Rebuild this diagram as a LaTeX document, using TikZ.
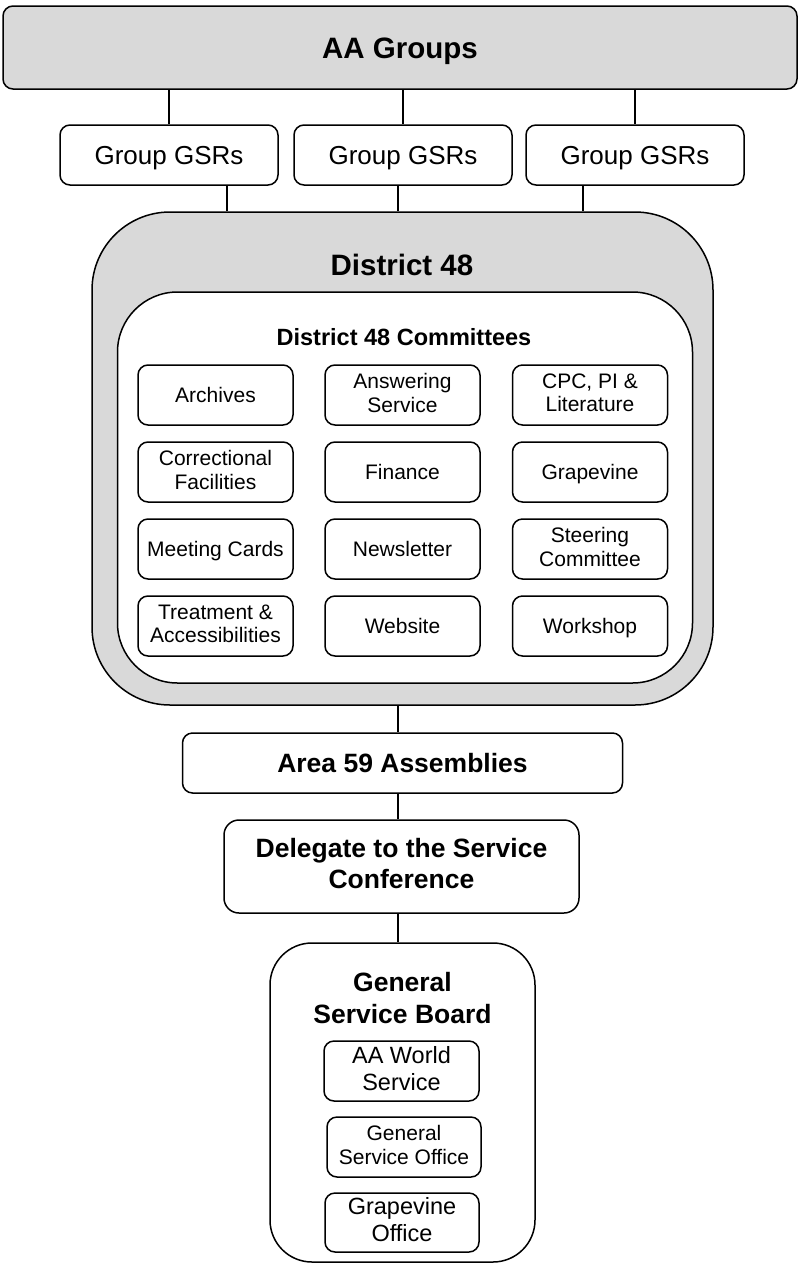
\documentclass[tikz,border=0pt]{standalone}
\usepackage{fontspec}
\setmainfont{Liberation Sans}
\newcommand{\boxstrut}{\rule[-0.22em]{0pt}{1.156em}}
\begin{document}
\begin{tikzpicture}[x=1pt,y=-1pt,
	box/.style={draw,line width=1.5pt,rounded corners=10pt,fill=white,inner sep=0pt,align=center,
		execute at begin node=\boxstrut,execute at end node=\boxstrut},
	graybox/.style={box,fill=black!15},
	comm/.style={box,minimum width=155pt,minimum height=60pt,font=\fontsize{21}{23.5}\selectfont},
	office/.style={box,minimum width=155pt,minimum height=60pt,font=\fontsize{23.5}{27}\selectfont},
	title/.style={align=center,font=\bfseries\fontsize{26.5}{31.5}\selectfont},
	link/.style={line width=1.5pt}]
	\useasboundingbox (0,0) rectangle (799,1264);
	\node[graybox,minimum width=794pt,minimum height=83pt,font=\bfseries\fontsize{29.5}{34}\selectfont] (groups) at (400,47.5) {AA Groups};
	\node[box,minimum width=218pt,minimum height=60pt,font=\fontsize{26}{30}\selectfont] (gsr1) at (169,155) {Group GSRs};
	\node[box,minimum width=218pt,minimum height=60pt,font=\fontsize{26}{30}\selectfont] (gsr2) at (403,155) {Group GSRs};
	\node[box,minimum width=218pt,minimum height=60pt,font=\fontsize{26}{30}\selectfont] (gsr3) at (635,155) {Group GSRs};
	\draw[link] (groups.south -| gsr1) -- (gsr1.north);
	\draw[link] (groups.south -| gsr2) -- (gsr2.north);
	\draw[link] (groups.south -| gsr3) -- (gsr3.north);
	\node[graybox,rounded corners=78pt,minimum width=621pt,minimum height=493pt] (district) at (402.5,458.5) {};
	\draw[link] ([xshift=58pt]gsr1.south) -- ([xshift=58pt]gsr1.south |- district.north);
	\draw[link] ([xshift=-5pt]gsr2.south) -- ([xshift=-5pt]gsr2.south |- district.north);
	\draw[link] ([xshift=-52pt]gsr3.south) -- ([xshift=-52pt]gsr3.south |- district.north);
	\node[font=\bfseries\fontsize{29.5}{34}\selectfont] (districtname) at (402,265) {District 48};
	\node[box,rounded corners=60pt,minimum width=575pt,minimum height=391pt] (committees) at (405,487.5) {};
	\node[font=\bfseries\fontsize{23.5}{27}\selectfont] (committeesname) at (404,337) {District 48 Committees};
	\node[comm] (archives) at (215.5,395) {Archives};
	\node[comm] (answering) at (402.5,395) {Answering\\Service};
	\node[comm] (cpc) at (590,395) {CPC, PI \&\\Literature};
	\node[comm] (correctional) at (215.5,472) {Correctional\\Facilities};
	\node[comm] (finance) at (402.5,472) {Finance};
	\node[comm] (grapevine) at (590,472) {Grapevine};
	\node[comm] (cards) at (215.5,549) {Meeting Cards};
	\node[comm] (newsletter) at (402.5,549) {Newsletter};
	\node[comm] (steering) at (590,549) {Steering\\Committee};
	\node[comm] (treatment) at (215.5,626) {Treatment \&\\Accessibilities};
	\node[comm] (website) at (402.5,626) {Website};
	\node[comm] (workshop) at (590,626) {Workshop};
	\coordinate (spine) at (398,0);
	\node[box,title,minimum width=440pt,minimum height=60pt] (area) at (402.5,763) {Area 59 Assemblies};
	\node[box,title,rounded corners=15pt,minimum width=355pt,minimum height=93pt] (delegate) at (401.5,866.5) {Delegate to the Service\\Conference};
	\node[box,rounded corners=42pt,minimum width=265pt,minimum height=319pt] (board) at (402.5,1102.5) {};
	\node[title] (boardname) at (402.5,998) {General\\Service Board};
	\draw[link] (district.south -| spine) -- (area.north -| spine);
	\draw[link] (area.south -| spine) -- (delegate.north -| spine);
	\draw[link] (delegate.south -| spine) -- (board.north -| spine);
	\node[office] (world) at (401.5,1071) {AA World\\Service};
	\node[office,minimum width=154pt,font=\fontsize{21}{23.5}\selectfont] (gso) at (404,1147) {General\\Service Office};
	\node[office,minimum width=154pt,minimum height=59pt] (gvoffice) at (402,1222.5) {Grapevine\\Office};
\end{tikzpicture}
\end{document}
